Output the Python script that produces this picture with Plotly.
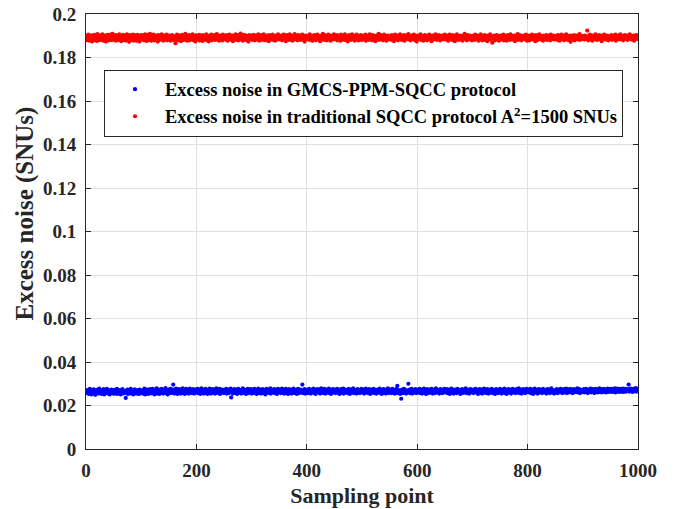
import plotly.graph_objects as go

# Excess noise values, in units of 1e-4 SNU
red_e4 = [
1898,1880,1893,1905,1886,1877,1899,1891,1884,1902,1874,1895,1901,1889,1882,1904,1879,1893,1897,1876,1908,1886,1891,1899,1880,1895,1884,1903,1889,1906,1877,1897,1883,1893,1901,1873,1895,1887,1904,1891,1879,1899,1885,1905,1889,1880,1897,1909,1882,1894,
1887,1895,1903,1877,1890,1901,1885,1894,1880,1906,1891,1883,1897,1875,1899,1889,1904,1881,1893,1886,1901,1878,1895,1907,1884,1892,1899,1872,1889,1903,1885,1897,1880,1893,1905,1878,1891,1887,1902,1895,1877,1890,1904,1883,1895,1899,1874,1893,1886,1903,
1895,1884,1890,1902,1879,1893,1906,1885,1897,1876,1891,1904,1881,1895,1889,1909,1887,1877,1899,1893,1882,1905,1891,1879,1897,1889,1901,1885,1894,1873,1903,1891,1881,1899,1886,1893,1907,1883,1895,1877,1901,1890,1884,1897,1891,1905,1879,1893,1887,1899,
1889,1901,1877,1895,1885,1903,1891,1881,1897,1887,1893,1866,1899,1883,1905,1889,1879,1895,1901,1885,1891,1875,1897,1904,1887,1893,1881,1899,1889,1909,1883,1895,1877,1901,1891,1887,1903,1879,1893,1897,1885,1890,1906,1880,1895,1891,1899,1873,1887,1902,
1893,1883,1897,1889,1904,1878,1891,1901,1887,1895,1876,1903,1889,1885,1899,1893,1881,1906,1891,1883,1897,1874,1895,1901,1887,1890,1905,1879,1893,1897,1885,1891,1903,1881,1895,1889,1908,1883,1899,1887,1877,1893,1901,1891,1885,1897,1879,1905,1889,1895,
1887,1899,1891,1881,1903,1893,1877,1895,1889,1905,1883,1897,1887,1891,1901,1875,1893,1899,1885,1889,1906,1881,1895,1891,1903,1879,1897,1887,1893,1910,1883,1889,1899,1877,1895,1904,1885,1891,1881,1901,1893,1887,1897,1873,1891,1903,1883,1895,1889,1899,
1891,1881,1904,1889,1895,1879,1901,1887,1893,1897,1883,1907,1891,1877,1899,1889,1885,1903,1895,1881,1893,1906,1887,1891,1879,1897,1901,1885,1895,1889,1875,1903,1893,1883,1899,1891,1887,1905,1881,1895,1889,1897,1877,1901,1893,1885,1891,1906,1883,1895,
1897,1887,1891,1901,1879,1895,1889,1905,1883,1893,1899,1875,1891,1903,1885,1897,1889,1881,1906,1893,1887,1895,1901,1877,1891,1899,1883,1908,1889,1895,1885,1897,1879,1903,1891,1887,1893,1901,1881,1895,1889,1905,1883,1891,1897,1873,1893,1901,1887,1889,
1895,1883,1899,1889,1906,1881,1893,1887,1901,1877,1891,1897,1885,1903,1889,1879,1895,1891,1905,1883,1893,1899,1887,1875,1897,1889,1901,1885,1909,1891,1881,1895,1903,1887,1893,1879,1897,1889,1905,1883,1891,1899,1877,1895,1887,1901,1889,1883,1906,1893,
1885,1897,1891,1903,1879,1895,1889,1901,1887,1893,1877,1905,1891,1883,1899,1889,1895,1881,1906,1893,1885,1897,1889,1874,1901,1891,1887,1903,1881,1895,1893,1907,1883,1891,1899,1887,1877,1897,1889,1905,1885,1893,1901,1879,1891,1895,1887,1903,1881,1897,
1891,1899,1883,1895,1889,1905,1877,1893,1901,1887,1891,1881,1897,1906,1885,1895,1889,1879,1903,1891,1893,1883,1899,1875,1897,1889,1901,1887,1893,1909,1881,1895,1891,1903,1885,1897,1889,1879,1893,1905,1887,1891,1899,1877,1895,1889,1901,1883,1893,1887,
1897,1889,1881,1903,1893,1887,1899,1875,1891,1905,1885,1895,1889,1901,1879,1893,1897,1887,1906,1883,1891,1895,1881,1899,1889,1903,1877,1893,1887,1901,1891,1885,1897,1908,1883,1895,1889,1879,1901,1893,1887,1897,1891,1905,1881,1895,1889,1899,1873,1893,
1889,1901,1885,1895,1891,1906,1881,1893,1899,1887,1877,1897,1889,1903,1883,1895,1891,1879,1901,1893,1887,1905,1885,1891,1897,1875,1893,1901,1889,1883,1899,1891,1907,1887,1895,1881,1897,1889,1903,1885,1893,1879,1899,1891,1887,1901,1895,1883,1889,1905,
1893,1883,1897,1889,1901,1877,1895,1891,1905,1885,1893,1899,1881,1889,1903,1887,1895,1875,1891,1897,1885,1906,1893,1889,1881,1899,1891,1895,1883,1901,1889,1877,1897,1893,1887,1909,1885,1895,1891,1879,1903,1889,1897,1883,1893,1901,1887,1891,1879,1895,
1899,1887,1893,1881,1905,1891,1895,1885,1901,1889,1877,1897,1893,1883,1906,1889,1895,1879,1899,1891,1887,1903,1881,1893,1897,1889,1875,1901,1891,1885,1895,1906,1883,1893,1889,1868,1897,1887,1901,1891,1879,1895,1889,1903,1885,1893,1899,1877,1891,1897,
1889,1901,1883,1895,1891,1905,1879,1893,1887,1899,1889,1877,1897,1903,1885,1891,1895,1881,1906,1889,1893,1899,1883,1895,1887,1901,1875,1891,1897,1885,1893,1908,1881,1895,1889,1903,1887,1891,1879,1897,1893,1885,1901,1889,1895,1883,1905,1891,1877,1893,
1895,1887,1901,1879,1891,1897,1889,1905,1883,1893,1899,1885,1891,1875,1903,1895,1889,1881,1897,1893,1906,1887,1891,1883,1899,1889,1895,1877,1901,1893,1885,1897,1891,1903,1881,1895,1889,1899,1887,1893,1879,1905,1891,1885,1897,1889,1901,1883,1895,1891,
1887,1899,1891,1881,1903,1893,1889,1877,1897,1891,1905,1885,1895,1889,1901,1879,1893,1897,1887,1906,1883,1891,1895,1881,1899,1889,1893,1872,1901,1891,1885,1897,1889,1903,1879,1895,1891,1887,1901,1893,1883,1897,1889,1908,1881,1895,1891,1899,1885,1893,
1897,1889,1883,1901,1891,1895,1887,1924,1893,1879,1899,1889,1905,1885,1895,1891,1877,1901,1893,1887,1897,1883,1906,1891,1895,1881,1899,1889,1893,1903,1885,1891,1897,1875,1901,1889,1895,1887,1905,1893,1883,1899,1891,1889,1901,1879,1895,1891,1885,1897,
1891,1903,1881,1895,1889,1899,1887,1893,1905,1877,1891,1897,1885,1901,1889,1895,1883,1906,1893,1887,1899,1891,1879,1897,1889,1903,1885,1895,1891,1901,1881,1893,1897,1887,1907,1889,1895,1883,1899,1891,1887,1901,1877,1893,1897,1889,1903,1885,1895,1891,
]

blue_e4 = [
268,258,264,272,253,262,276,259,266,251,270,264,256,274,261,267,249,264,260,272,266,255,262,278,258,268,264,253,271,260,266,275,251,262,268,257,264,277,256,266,262,270,251,264,259,273,257,266,262,254,
264,272,255,266,260,276,253,262,268,257,271,264,251,266,260,275,262,256,268,264,258,235,266,260,273,253,264,270,257,262,277,255,266,260,268,251,264,274,257,262,266,255,271,260,264,253,273,262,257,268,
262,270,255,266,260,278,251,264,268,257,273,262,253,266,260,275,264,256,268,262,277,257,266,251,264,271,260,279,255,266,262,273,253,264,268,257,277,262,266,255,271,260,264,280,257,268,262,251,273,264,
260,268,276,257,266,262,273,296,264,255,271,262,278,257,266,253,268,275,260,264,273,255,268,262,279,257,266,271,253,264,277,260,268,262,273,255,266,278,260,264,271,257,268,275,262,255,266,273,260,268,
264,277,257,268,262,273,253,266,279,260,264,271,255,268,262,276,257,266,273,253,264,268,260,278,262,255,271,264,275,257,266,262,273,255,268,279,260,264,271,257,266,277,253,264,268,260,273,262,266,257,
271,260,264,277,255,266,262,273,257,268,264,278,237,262,271,255,266,260,275,264,257,268,273,253,264,277,260,266,262,271,255,268,264,279,257,266,273,260,264,253,271,262,277,257,266,268,260,275,262,255,
266,273,257,264,277,260,268,262,253,271,264,278,257,266,260,273,255,268,264,275,262,257,271,264,251,266,277,260,268,262,273,257,264,279,255,266,262,271,260,268,275,257,264,262,273,253,266,277,260,268,
262,271,257,266,278,260,264,273,255,268,262,277,257,266,271,253,264,275,260,268,264,255,273,262,266,278,257,264,271,260,268,253,266,277,262,257,271,264,273,260,266,296,257,268,262,275,255,266,271,260,
268,257,264,277,262,271,255,266,260,273,264,278,257,268,262,253,271,264,275,260,266,262,273,255,268,279,260,264,271,257,266,277,262,255,268,264,273,260,266,278,257,268,262,253,271,264,275,260,266,262,
273,257,266,262,277,260,268,264,253,271,262,275,257,266,264,278,255,268,262,273,260,266,271,257,264,277,262,253,268,264,273,260,266,279,257,264,271,262,268,255,266,275,260,264,271,257,268,262,277,260,
266,262,273,255,268,264,278,260,266,271,257,264,275,262,253,268,264,273,260,266,277,257,264,271,262,255,268,273,260,266,262,278,257,264,271,253,266,262,275,260,268,264,255,273,262,266,279,257,264,268,
262,273,257,266,277,260,264,271,255,268,262,275,257,290,266,260,271,264,253,268,231,262,273,257,266,277,260,264,271,255,268,262,264,300,260,273,257,266,262,277,255,268,264,271,260,266,275,257,264,262,
271,260,266,277,257,264,262,273,255,268,264,278,260,266,271,253,264,275,262,268,257,266,273,260,264,277,262,255,268,264,273,257,266,279,260,264,271,262,268,255,266,275,260,264,271,257,268,262,277,264,
260,268,264,275,257,266,262,273,253,268,264,278,260,266,271,255,264,273,262,268,257,266,277,260,264,271,262,253,268,264,275,257,266,262,273,260,268,279,257,264,271,262,266,255,268,275,260,264,273,262,
266,257,273,262,264,277,260,268,262,253,271,264,275,257,266,262,273,255,268,264,278,260,266,271,257,264,275,262,255,268,264,273,260,266,277,257,264,271,262,268,253,266,275,260,264,271,257,268,262,277,
262,271,255,266,260,273,264,278,257,266,262,253,271,264,275,260,268,262,273,255,266,264,277,260,268,262,271,257,264,275,260,268,264,279,257,266,262,273,255,268,264,275,260,266,271,257,264,277,262,268,
264,273,260,266,277,257,268,262,273,253,266,264,278,260,268,262,271,255,266,275,260,264,273,262,268,257,266,277,260,264,271,262,268,255,266,275,262,264,273,257,268,264,279,260,266,271,262,255,268,264,
268,262,275,257,266,264,273,260,268,277,262,266,257,271,264,275,260,268,262,278,257,266,264,273,260,268,277,262,264,271,257,266,275,260,268,264,273,262,266,279,260,268,264,275,257,266,271,262,268,264,
266,275,260,268,264,277,262,271,257,266,273,264,268,278,260,266,262,275,264,271,257,268,277,262,266,273,260,268,264,279,262,266,275,260,271,264,268,277,262,266,273,260,268,264,278,262,271,266,275,264,
268,277,262,271,266,275,264,279,260,268,273,264,278,266,271,262,275,268,277,264,271,266,278,262,273,268,277,264,271,266,275,268,296,264,273,268,278,266,275,262,271,277,266,273,268,280,264,275,271,277,
]

x_ticks = [0, 200, 400, 600, 800, 1000]
x_tick_labels = ["0", "200", "400", "600", "800", "1000"]
y_ticks = [0, 0.02, 0.04, 0.06, 0.08, 0.1, 0.12, 0.14, 0.16, 0.18, 0.2]
y_tick_labels = ["0", "0.02", "0.04", "0.06", "0.08", "0.1", "0.12", "0.14", "0.16", "0.18", "0.2"]

blue_name = "Excess noise in GMCS-PPM-SQCC protocol"
red_name = "Excess noise in traditional SQCC protocol A<sup>2</sup>=1500 SNUs"
x_title = "Sampling point"
y_title = "Excess noise (SNUs)"

red = [v / 10000 for v in red_e4]
blue = [v / 10000 for v in blue_e4]
x_red = list(range(1, len(red) + 1))
x_blue = list(range(1, len(blue) + 1))

FONT = "Liberation Serif, Times New Roman, serif"
AX = "#262626"

fig = go.Figure()
fig.add_trace(go.Scatter(x=x_blue, y=blue, mode="markers", name=blue_name,
                         marker=dict(color="#0000ff", size=4.2, line=dict(width=0))))
fig.add_trace(go.Scatter(x=x_red, y=red, mode="markers", name=red_name,
                         marker=dict(color="#ff0000", size=4.2, line=dict(width=0))))

axis_common = dict(showline=True, linecolor=AX, linewidth=1, mirror="ticks",
                   ticks="inside", ticklen=5, tickcolor=AX, tickwidth=1,
                   showgrid=True, gridcolor="#dfdfdf", gridwidth=1, zeroline=False,
                   automargin=False,
                   tickfont=dict(family=FONT, size=19, color=AX, weight="bold"))

fig.update_xaxes(range=[0, 1000], tickvals=x_ticks, ticktext=x_tick_labels,
                 title=dict(text=x_title, standoff=7,
                            font=dict(family=FONT, size=22, color=AX, weight="bold")),
                 ticklabelstandoff=4, **axis_common)
fig.update_yaxes(range=[0, 0.2], tickvals=y_ticks, ticktext=y_tick_labels,
                 ticklabelstandoff=5, **axis_common)

fig.add_annotation(text=y_title, xref="paper", yref="paper",
                   x=-0.1105, y=0.5414, xanchor="center", yanchor="middle",
                   textangle=-90, showarrow=False,
                   font=dict(family=FONT, size=25, color=AX, weight="bold"))

fig.update_layout(
    width=689, height=509,
    margin=dict(l=86, r=51, t=14, b=60, autoexpand=False),
    plot_bgcolor="white", paper_bgcolor="white",
    font=dict(family=FONT, color=AX),
    showlegend=True,
    legend=dict(x=0.0326, y=0.872, xanchor="left", yanchor="top",
                bgcolor="white", bordercolor=AX, borderwidth=1,
                itemwidth=50,
                font=dict(family=FONT, size=18.5, color="#000000", weight="bold")),
)

fig.write_html("out.html")
